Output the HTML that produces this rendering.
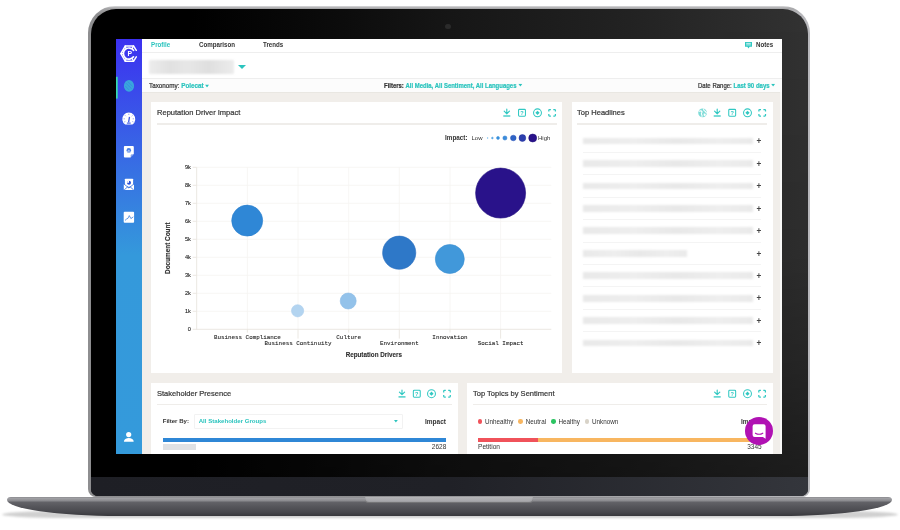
<!DOCTYPE html>
<html><head><meta charset="utf-8"><title>Dashboard</title>
<style>
html,body{margin:0;padding:0;background:#fff;}
body{width:900px;height:530px;position:relative;overflow:hidden;font-family:"Liberation Sans",sans-serif;color:#333;}
.a{position:absolute;}
.t{position:absolute;white-space:nowrap;line-height:1;transform:translateY(-50%);}
.b{font-weight:bold;}
.n{transform:translateY(-50%) scaleX(.925);transform-origin:0 50%;}
.f{transform:translateY(-50%) scaleX(.9);transform-origin:0 50%;}
.h{transform:translateY(-50%) scaleX(.955);transform-origin:0 50%;-webkit-text-stroke:.36px currentColor;color:#383838;}
.teal{color:#2bc4be;}
.mono{font-family:"Liberation Mono",monospace;}
/* laptop */
#lid{left:88px;top:6px;width:722px;height:491px;border-radius:27px 27px 8px 8px;background:linear-gradient(180deg,#d8d8d8 0,#8a8a8a 2px,#666 100%);}
#lidrim{left:88px;top:6px;width:722px;height:491px;border-radius:27px 27px 8px 8px;background:linear-gradient(180deg,#dcdcde 0,#a8a8aa 2px,rgba(150,150,152,0) 8px),linear-gradient(90deg,#8e8e90 0,#909092 40%,#b8b8bc 100%);}
#bezel{left:90.7px;top:8.8px;width:717px;height:487.7px;border-radius:25px 25px 7px 7px;background:linear-gradient(180deg,rgba(0,0,0,0) 0,rgba(0,0,0,.1) 50%,rgba(0,0,0,.45) 100%),linear-gradient(90deg,#000 0,#000 14%,#0c0c0c 35%,#161616 50%,#222222 75%,#323232 100%);overflow:hidden;}
#chin{left:0;top:468.5px;width:100%;height:20px;background:linear-gradient(90deg,#1e1f25 0,#202127 50%,#34363c 100%);}
#cam{left:445.2px;top:23.6px;width:5.6px;height:5.6px;border-radius:50%;background:#2b2b2b;}
#base{left:7px;top:496.5px;width:885px;height:19px;border-radius:4px 4px 115px 115px/3px 3px 16.5px 16.5px;background:linear-gradient(180deg,#8c8c90 0,#9e9ea2 1.5px,#8a8a8e 3.8px,#626267 5.2px,#57575c 9px,#48484d 15px,#38383c 100%);}
#notch{left:365px;top:497px;width:168px;height:6.3px;border-radius:0 0 4px 4px;background:linear-gradient(180deg,#b4b4b7,#a2a2a6);box-shadow:inset 0 -1px 1px rgba(60,60,60,.5);}
#shadow{left:2px;top:511px;width:896px;height:6.5px;border-radius:120px/6.5px;background:rgba(110,110,110,.32);filter:blur(1.2px);}
/* screen */
#screen{left:116px;top:38.5px;width:666px;height:415.5px;overflow:hidden;background:#f1eeea;}
#in{left:-116px;top:-38.5px;width:900px;height:530px;}
#side{left:116px;top:38px;width:26px;height:417px;background:linear-gradient(180deg,#3c30f0 0,#3499db 52%,#349adb 100%);}
#top{left:142px;top:38px;width:640px;height:54.5px;background:#fff;}
.hl{position:absolute;height:1px;background:#eeeeee;}
.card{position:absolute;background:#fff;}
.car{display:inline-block;vertical-align:middle;margin-left:1.5px;position:relative;top:-.1px}
.m{-webkit-text-stroke:.22px currentColor;}
.sep{position:absolute;height:1.4px;background:#efedea;}
</style></head><body>
<div class="a" id="shadow"></div>
<div class="a" id="lidrim"></div>
<div class="a" id="lid" style="background:none"></div>
<div class="a" id="bezel"><div class="a" id="chin"></div></div>
<div class="a" id="cam"></div>
<div class="a" id="base"></div>
<div class="a" id="notch"></div>
<div class="a" id="screen"><div class="a" id="in">
<div class="a" id="side"></div>
<div class="a" id="top"></div>

<!-- nav -->
<div class="t b n teal" style="left:151px;top:45.35px;font-size:6.7px">Profile</div>
<div class="t b n" style="left:199px;top:45.35px;font-size:6.7px">Comparison</div>
<div class="t b n" style="left:263px;top:45.35px;font-size:6.7px">Trends</div>
<div class="t b n" style="left:755.5px;top:45.35px;font-size:6.7px">Notes</div>
<div class="hl" style="left:142px;top:52px;width:640px"></div>
<div class="a" style="left:149px;top:60px;width:84.5px;height:13.5px;background:linear-gradient(90deg,#ececec 0,#e1e1e1 25%,#e7e7e7 45%,#dfdfdf 70%,#ececec 100%);border-radius:1px;filter:blur(1.3px)"></div>
<div class="a" style="left:237.5px;top:64.7px;width:0;height:0;border-left:4.2px solid transparent;border-right:4.2px solid transparent;border-top:4.8px solid #2bc4be"></div>
<div class="hl" style="left:142px;top:78px;width:640px"></div>
<div class="a" style="left:142px;top:79px;width:640px;height:13px;background:#fcfcfc"></div>
<div class="t m f" style="left:149px;top:85.3px;font-size:7px">Taxonomy: <span class="teal b">Polecat<svg class="car" width="5" height="2.9" viewBox="0 0 3.8 2.400"><path d="M0 0h3.800L1.900 2.400z" fill="#2bc4be"/></svg></span></div>
<div class="t m f" style="left:384.4px;top:85.5px;font-size:6.62px"><span class="b">Filters:</span> <span class="teal b">All Media, All Sentiment, All Languages<svg class="car" width="5" height="2.9" viewBox="0 0 3.8 2.400"><path d="M0 0h3.800L1.900 2.400z" fill="#2bc4be"/></svg></span></div>
<div class="t m f" style="left:698px;top:85.5px;font-size:6.7px">Date Range: <span class="teal b">Last 90 days<svg class="car" width="5" height="2.9" viewBox="0 0 3.8 2.400"><path d="M0 0h3.800L1.900 2.400z" fill="#2bc4be"/></svg></span></div>
<div class="a" style="left:142px;top:92px;width:640px;height:1px;background:#e9e7e2"></div>
<div class="a" style="left:780px;top:92px;width:2px;height:363px;background:#f9f9f8"></div>
<!-- cards -->
<div class="card" style="left:151px;top:102px;width:411.2px;height:271px"></div>
<div class="card" style="left:571.5px;top:102px;width:201.5px;height:271px"></div>
<div class="card" style="left:151px;top:383px;width:307px;height:80px"></div>
<div class="card" style="left:467px;top:383px;width:306px;height:80px"></div>
<div class="t m h" style="left:157px;top:113px;font-size:7.9px">Reputation Driver Impact</div>
<div class="t m h" style="left:577.4px;top:113px;font-size:7.9px">Top Headlines</div>
<div class="t m h" style="left:157px;top:394px;font-size:7.9px">Stakeholder Presence</div>
<div class="t m h" style="left:472.5px;top:394px;font-size:7.9px">Top Topics by Sentiment</div>
<div class="sep" style="left:157px;top:123.3px;width:400px"></div>
<div class="sep" style="left:577.4px;top:123.3px;width:190px"></div>
<div class="sep" style="left:157px;top:404.1px;width:295px"></div>
<div class="sep" style="left:472.5px;top:404.1px;width:294.5px"></div>
<svg class="a" style="left:0;top:0" width="900" height="530" viewBox="0 0 900 530" font-family="Liberation Sans, sans-serif">
<line x1="196.7" x2="551.3" y1="311.3" y2="311.3" stroke="#f5f4f1" stroke-width="0.8"/>
<line x1="196.7" x2="551.3" y1="293.3" y2="293.3" stroke="#f5f4f1" stroke-width="0.8"/>
<line x1="196.7" x2="551.3" y1="275.3" y2="275.3" stroke="#f5f4f1" stroke-width="0.8"/>
<line x1="196.7" x2="551.3" y1="257.3" y2="257.3" stroke="#f5f4f1" stroke-width="0.8"/>
<line x1="196.7" x2="551.3" y1="239.3" y2="239.3" stroke="#f5f4f1" stroke-width="0.8"/>
<line x1="196.7" x2="551.3" y1="221.3" y2="221.3" stroke="#f5f4f1" stroke-width="0.8"/>
<line x1="196.7" x2="551.3" y1="203.3" y2="203.3" stroke="#f5f4f1" stroke-width="0.8"/>
<line x1="196.7" x2="551.3" y1="185.3" y2="185.3" stroke="#f5f4f1" stroke-width="0.8"/>
<line x1="196.7" x2="551.3" y1="167.3" y2="167.3" stroke="#f5f4f1" stroke-width="0.8"/>
<line x1="247.4" x2="247.4" y1="167.3" y2="329.3" stroke="#f5f4f1" stroke-width="0.8"/>
<line x1="298.0" x2="298.0" y1="167.3" y2="329.3" stroke="#f5f4f1" stroke-width="0.8"/>
<line x1="348.7" x2="348.7" y1="167.3" y2="329.3" stroke="#f5f4f1" stroke-width="0.8"/>
<line x1="399.3" x2="399.3" y1="167.3" y2="329.3" stroke="#f5f4f1" stroke-width="0.8"/>
<line x1="450.0" x2="450.0" y1="167.3" y2="329.3" stroke="#f5f4f1" stroke-width="0.8"/>
<line x1="500.6" x2="500.6" y1="167.3" y2="329.3" stroke="#f5f4f1" stroke-width="0.8"/>
<line x1="196.7" x2="196.7" y1="167.3" y2="329.8" stroke="#e9e5df" stroke-width="0.9"/>
<line x1="192.7" x2="551.3" y1="329.3" y2="329.3" stroke="#e9e5df" stroke-width="0.9"/>
<text x="190.8" y="330.8" font-size="5.6" text-anchor="end" fill="#262626" stroke="#262626" stroke-width=".12">0</text>
<line x1="192.7" x2="196.7" y1="311.3" y2="311.3" stroke="#e9e5df" stroke-width="0.9"/>
<text x="190.8" y="312.8" font-size="5.6" text-anchor="end" fill="#262626" stroke="#262626" stroke-width=".12">1k</text>
<line x1="192.7" x2="196.7" y1="293.3" y2="293.3" stroke="#e9e5df" stroke-width="0.9"/>
<text x="190.8" y="294.8" font-size="5.6" text-anchor="end" fill="#262626" stroke="#262626" stroke-width=".12">2k</text>
<line x1="192.7" x2="196.7" y1="275.3" y2="275.3" stroke="#e9e5df" stroke-width="0.9"/>
<text x="190.8" y="276.8" font-size="5.6" text-anchor="end" fill="#262626" stroke="#262626" stroke-width=".12">3k</text>
<line x1="192.7" x2="196.7" y1="257.3" y2="257.3" stroke="#e9e5df" stroke-width="0.9"/>
<text x="190.8" y="258.8" font-size="5.6" text-anchor="end" fill="#262626" stroke="#262626" stroke-width=".12">4k</text>
<line x1="192.7" x2="196.7" y1="239.3" y2="239.3" stroke="#e9e5df" stroke-width="0.9"/>
<text x="190.8" y="240.8" font-size="5.6" text-anchor="end" fill="#262626" stroke="#262626" stroke-width=".12">5k</text>
<line x1="192.7" x2="196.7" y1="221.3" y2="221.3" stroke="#e9e5df" stroke-width="0.9"/>
<text x="190.8" y="222.8" font-size="5.6" text-anchor="end" fill="#262626" stroke="#262626" stroke-width=".12">6k</text>
<line x1="192.7" x2="196.7" y1="203.3" y2="203.3" stroke="#e9e5df" stroke-width="0.9"/>
<text x="190.8" y="204.8" font-size="5.6" text-anchor="end" fill="#262626" stroke="#262626" stroke-width=".12">7k</text>
<line x1="192.7" x2="196.7" y1="185.3" y2="185.3" stroke="#e9e5df" stroke-width="0.9"/>
<text x="190.8" y="186.8" font-size="5.6" text-anchor="end" fill="#262626" stroke="#262626" stroke-width=".12">8k</text>
<line x1="192.7" x2="196.7" y1="167.3" y2="167.3" stroke="#e9e5df" stroke-width="0.9"/>
<text x="190.8" y="168.8" font-size="5.6" text-anchor="end" fill="#262626" stroke="#262626" stroke-width=".12">9k</text>
<line x1="247.4" x2="247.4" y1="329.3" y2="332.6" stroke="#e9e5df" stroke-width="0.9"/>
<text x="247.4" y="338.8" font-size="5.88" text-anchor="middle" fill="#262626" stroke="#262626" stroke-width=".1" font-family="Liberation Mono, monospace">Business Compliance</text>
<line x1="298.0" x2="298.0" y1="329.3" y2="338.6" stroke="#e9e5df" stroke-width="0.9"/>
<text x="298.0" y="345.4" font-size="5.88" text-anchor="middle" fill="#262626" stroke="#262626" stroke-width=".1" font-family="Liberation Mono, monospace">Business Continuity</text>
<line x1="348.7" x2="348.7" y1="329.3" y2="332.6" stroke="#e9e5df" stroke-width="0.9"/>
<text x="348.7" y="338.8" font-size="5.88" text-anchor="middle" fill="#262626" stroke="#262626" stroke-width=".1" font-family="Liberation Mono, monospace">Culture</text>
<line x1="399.3" x2="399.3" y1="329.3" y2="338.6" stroke="#e9e5df" stroke-width="0.9"/>
<text x="399.3" y="345.4" font-size="5.88" text-anchor="middle" fill="#262626" stroke="#262626" stroke-width=".1" font-family="Liberation Mono, monospace">Environment</text>
<line x1="450.0" x2="450.0" y1="329.3" y2="332.6" stroke="#e9e5df" stroke-width="0.9"/>
<text x="450.0" y="338.8" font-size="5.88" text-anchor="middle" fill="#262626" stroke="#262626" stroke-width=".1" font-family="Liberation Mono, monospace">Innovation</text>
<line x1="500.6" x2="500.6" y1="329.3" y2="338.6" stroke="#e9e5df" stroke-width="0.9"/>
<text x="500.6" y="345.4" font-size="5.88" text-anchor="middle" fill="#262626" stroke="#262626" stroke-width=".1" font-family="Liberation Mono, monospace">Social Impact</text>
<text x="373.8" y="356.5" font-size="6.3" font-weight="bold" text-anchor="middle" fill="#2e2e2e" stroke="#2e2e2e" stroke-width=".1">Reputation Drivers</text>
<text transform="translate(170.2,248.2) rotate(-90)" font-size="6.4" font-weight="bold" text-anchor="middle" fill="#2e2e2e" stroke="#2e2e2e" stroke-width=".12">Document Count</text>
<circle cx="247.2" cy="220.6" r="15.5" fill="#2f87d6" stroke="#2a7fce" stroke-width="0.6"/>
<circle cx="297.6" cy="310.8" r="6.1" fill="#b3d4f0" stroke="#a9cdec" stroke-width="0.6"/>
<circle cx="348.2" cy="301" r="8.0" fill="#93c2ea" stroke="#8abbe6" stroke-width="0.6"/>
<circle cx="399.2" cy="252.7" r="16.6" fill="#2e78c8" stroke="#2a6fc0" stroke-width="0.6"/>
<circle cx="449.8" cy="259" r="14.5" fill="#4198da" stroke="#3c90d4" stroke-width="0.6"/>
<circle cx="500.6" cy="193.1" r="25.0" fill="#29128a" stroke="#241080" stroke-width="0.6"/>
<text x="445" y="140.1" font-size="6.35" font-weight="bold" fill="#333">Impact:</text>
<text x="471.5" y="140.1" font-size="6" fill="#333">Low</text>
<text x="538" y="140.1" font-size="6" fill="#333">High</text>
<circle cx="487.7" cy="138" r="0.45" fill="#6ab4ea" stroke="#6ab4ea" stroke-width="0.5"/>
<circle cx="492.4" cy="138" r="0.85" fill="#4aa0e2" stroke="#3d95dc" stroke-width="0.5"/>
<circle cx="498" cy="138" r="1.45" fill="#3a94de" stroke="#2f87d6" stroke-width="0.5"/>
<circle cx="504.9" cy="138" r="2.05" fill="#3a8cdc" stroke="#2a78cc" stroke-width="0.5"/>
<circle cx="513.3" cy="138" r="2.8" fill="#2f64c6" stroke="#244eb4" stroke-width="0.5"/>
<circle cx="522.4" cy="138" r="3.4" fill="#2d3fae" stroke="#23309c" stroke-width="0.5"/>
<circle cx="532.7" cy="138" r="4.0" fill="#29128a" stroke="#1d0b74" stroke-width="0.5"/>
</svg>
<div class="a" style="left:583px;top:137.6px;width:169.6px;height:6.8px;background:linear-gradient(90deg,#e9e9e9,#eeeeee 30%,#e8e8e8 55%,#eeeeee 80%,#eaeaea);filter:blur(.9px)"></div>
<div class="t b" style="left:756.4px;top:142.3px;font-size:8.2px;color:#444">+</div>
<div class="hl" style="left:583px;top:151.7px;width:178px;background:#f4f4f4"></div>
<div class="a" style="left:583px;top:160.0px;width:169.6px;height:6.8px;background:linear-gradient(90deg,#e9e9e9,#eeeeee 30%,#e8e8e8 55%,#eeeeee 80%,#eaeaea);filter:blur(.9px)"></div>
<div class="t b" style="left:756.4px;top:164.7px;font-size:8.2px;color:#444">+</div>
<div class="hl" style="left:583px;top:174.1px;width:178px;background:#f4f4f4"></div>
<div class="a" style="left:583px;top:182.5px;width:169.6px;height:6.8px;background:linear-gradient(90deg,#e9e9e9,#eeeeee 30%,#e8e8e8 55%,#eeeeee 80%,#eaeaea);filter:blur(.9px)"></div>
<div class="t b" style="left:756.4px;top:187.2px;font-size:8.2px;color:#444">+</div>
<div class="hl" style="left:583px;top:196.6px;width:178px;background:#f4f4f4"></div>
<div class="a" style="left:583px;top:204.9px;width:169.6px;height:6.8px;background:linear-gradient(90deg,#e9e9e9,#eeeeee 30%,#e8e8e8 55%,#eeeeee 80%,#eaeaea);filter:blur(.9px)"></div>
<div class="t b" style="left:756.4px;top:209.6px;font-size:8.2px;color:#444">+</div>
<div class="hl" style="left:583px;top:219.0px;width:178px;background:#f4f4f4"></div>
<div class="a" style="left:583px;top:227.4px;width:169.6px;height:6.8px;background:linear-gradient(90deg,#e9e9e9,#eeeeee 30%,#e8e8e8 55%,#eeeeee 80%,#eaeaea);filter:blur(.9px)"></div>
<div class="t b" style="left:756.4px;top:232.1px;font-size:8.2px;color:#444">+</div>
<div class="hl" style="left:583px;top:241.5px;width:178px;background:#f4f4f4"></div>
<div class="a" style="left:583px;top:249.8px;width:103.5px;height:6.8px;background:linear-gradient(90deg,#e9e9e9,#eeeeee 30%,#e8e8e8 55%,#eeeeee 80%,#eaeaea);filter:blur(.9px)"></div>
<div class="t b" style="left:756.4px;top:254.5px;font-size:8.2px;color:#444">+</div>
<div class="hl" style="left:583px;top:263.9px;width:178px;background:#f4f4f4"></div>
<div class="a" style="left:583px;top:272.3px;width:169.6px;height:6.8px;background:linear-gradient(90deg,#e9e9e9,#eeeeee 30%,#e8e8e8 55%,#eeeeee 80%,#eaeaea);filter:blur(.9px)"></div>
<div class="t b" style="left:756.4px;top:277.0px;font-size:8.2px;color:#444">+</div>
<div class="hl" style="left:583px;top:286.4px;width:178px;background:#f4f4f4"></div>
<div class="a" style="left:583px;top:294.8px;width:169.6px;height:6.8px;background:linear-gradient(90deg,#e9e9e9,#eeeeee 30%,#e8e8e8 55%,#eeeeee 80%,#eaeaea);filter:blur(.9px)"></div>
<div class="t b" style="left:756.4px;top:299.4px;font-size:8.2px;color:#444">+</div>
<div class="hl" style="left:583px;top:308.8px;width:178px;background:#f4f4f4"></div>
<div class="a" style="left:583px;top:317.2px;width:169.6px;height:6.8px;background:linear-gradient(90deg,#e9e9e9,#eeeeee 30%,#e8e8e8 55%,#eeeeee 80%,#eaeaea);filter:blur(.9px)"></div>
<div class="t b" style="left:756.4px;top:321.9px;font-size:8.2px;color:#444">+</div>
<div class="hl" style="left:583px;top:331.3px;width:178px;background:#f4f4f4"></div>
<div class="a" style="left:583px;top:339.6px;width:169.6px;height:6.8px;background:linear-gradient(90deg,#e9e9e9,#eeeeee 30%,#e8e8e8 55%,#eeeeee 80%,#eaeaea);filter:blur(.9px)"></div>
<div class="t b" style="left:756.4px;top:344.3px;font-size:8.2px;color:#444">+</div>

<div class="t b" style="left:162.7px;top:421.4px;font-size:6.05px">Filter By:</div>
<div class="a" style="left:193.5px;top:414.4px;width:209.3px;height:14.2px;box-sizing:border-box;border:1px solid #f2f2f2;border-radius:1px;background:#fff"></div>
<div class="t b teal" style="left:198.7px;top:421.2px;font-size:6.1px">All Stakeholder Groups</div>
<svg class="a" style="left:394.2px;top:420.3px" width="3.8" height="2.4" viewBox="0 0 3.8 2.400"><path d="M0 0h3.800L1.900 2.400z" fill="#2bc4be"/></svg>
<div class="t b" style="left:425px;top:421.9px;font-size:6.5px">Impact</div>
<div class="a" style="left:162.7px;top:437.7px;width:283.3px;height:4.3px;background:#2f87d6"></div>
<div class="a" style="left:162.7px;top:444.3px;width:33px;height:5.3px;background:#dfe1e4;filter:blur(.5px)"></div>
<div class="t" style="left:431.8px;top:447.4px;font-size:6.5px">2628</div>
<div class="a" style="left:477.7px;top:419.3px;width:4.3px;height:4.3px;border-radius:50%;background:#f0525a"></div>
<div class="t" style="left:485px;top:421.5px;font-size:6.3px">Unhealthy</div>
<div class="a" style="left:518.3px;top:419.3px;width:4.3px;height:4.3px;border-radius:50%;background:#f8b660"></div>
<div class="t" style="left:525.8px;top:421.5px;font-size:6.3px">Neutral</div>
<div class="a" style="left:551.3px;top:419.3px;width:4.3px;height:4.3px;border-radius:50%;background:#2cc462"></div>
<div class="t" style="left:558.5px;top:421.5px;font-size:6.3px">Healthy</div>
<div class="a" style="left:584.8px;top:419.3px;width:4.3px;height:4.3px;border-radius:50%;background:#d8d3c8"></div>
<div class="t" style="left:592px;top:421.5px;font-size:6.3px">Unknown</div>
<div class="t b" style="left:741px;top:421.9px;font-size:6.5px">Impact</div>
<div class="a" style="left:478px;top:437.7px;width:59.7px;height:4.3px;background:#f0525a"></div>
<div class="a" style="left:537.7px;top:437.7px;width:224.3px;height:4.3px;background:#f8b660"></div>
<div class="t" style="left:478px;top:447.4px;font-size:6.6px">Petition</div>
<div class="t" style="left:747.2px;top:447.4px;font-size:6.5px">3345</div>
<div class="a" style="left:745px;top:417px;width:28px;height:28px;border-radius:50%;background:#b011b3"></div>
<svg class="a" style="left:745px;top:417px" width="28" height="28" viewBox="0 0 28 28"><path d="M9.600 7.200h9a2 2 0 0 1 2 2v12.500l-2.700-1.800H9.600a2 2 0 0 1-2-2V9.200a2 2 0 0 1 2-2z" fill="#fff"/><path d="M10.400 16.200q3.700 2.200 7.400 0" fill="none" stroke="#b011b3" stroke-width="1.1" stroke-linecap="round"/></svg>

<svg class="a" style="left:0;top:0" width="900" height="530" viewBox="0 0 900 530">
<g transform="translate(506.8,112.8)" fill="none" stroke="#30c8c2" stroke-width="1.15" stroke-linecap="round" stroke-linejoin="round"><path d="M0 -3.700V0.800M-2.600 -1.600L0 1.000L2.600 -1.600"/><path d="M-3.500 3.200H3.500" stroke-width="1.3" stroke-linecap="butt"/></g>
<g transform="translate(522,112.8)"><rect x="-3.450" y="-3.450" width="6.9" height="6.900" rx="0.9" fill="none" stroke="#30c8c2" stroke-width="1.050"/><text x="0" y="2.150" font-size="5.600" font-weight="bold" text-anchor="middle" fill="#30c8c2" font-family="Liberation Sans, sans-serif">?</text></g>
<g transform="translate(537.5,112.8)"><circle r="3.950" fill="none" stroke="#30c8c2" stroke-width="1.050"/><path d="M0 -2.100L2.100 0L0 2.100L-2.100 0Z" fill="#30c8c2"/></g>
<g transform="translate(552.1,112.8)" fill="none" stroke="#30c8c2" stroke-width="1.250" stroke-linejoin="round"><path d="M-3.300 -1.200V-2.500a.8 .8 0 0 1 .8 -.8H-1.200M1.200 -3.300H2.500a.8 .8 0 0 1 .8 .8V-1.200M3.300 1.200V2.500a.8 .8 0 0 1 -.8 .8H1.200M-1.200 3.300H-2.500a.8 .8 0 0 1 -.8 -.8V1.200"/></g>
<g transform="translate(717.2,112.8)" fill="none" stroke="#30c8c2" stroke-width="1.15" stroke-linecap="round" stroke-linejoin="round"><path d="M0 -3.700V0.800M-2.600 -1.600L0 1.000L2.600 -1.600"/><path d="M-3.500 3.200H3.500" stroke-width="1.3" stroke-linecap="butt"/></g>
<g transform="translate(732.2,112.8)"><rect x="-3.450" y="-3.450" width="6.9" height="6.900" rx="0.9" fill="none" stroke="#30c8c2" stroke-width="1.050"/><text x="0" y="2.150" font-size="5.600" font-weight="bold" text-anchor="middle" fill="#30c8c2" font-family="Liberation Sans, sans-serif">?</text></g>
<g transform="translate(747.5,112.8)"><circle r="3.950" fill="none" stroke="#30c8c2" stroke-width="1.050"/><path d="M0 -2.100L2.100 0L0 2.100L-2.100 0Z" fill="#30c8c2"/></g>
<g transform="translate(762.2,112.8)" fill="none" stroke="#30c8c2" stroke-width="1.250" stroke-linejoin="round"><path d="M-3.300 -1.200V-2.500a.8 .8 0 0 1 .8 -.8H-1.200M1.200 -3.300H2.500a.8 .8 0 0 1 .8 .8V-1.200M3.300 1.200V2.500a.8 .8 0 0 1 -.8 .8H1.200M-1.200 3.300H-2.500a.8 .8 0 0 1 -.8 -.8V1.200"/></g>
<g transform="translate(702.6,112.8)"><circle r="4.400" fill="#7fdcd8"/><path d="M-3.400 -1.500C-2.200 -2.000 -1.200 -2.200 -0.600 -1.200C-0.200 -0.300 -1.400 0.200 -1.200 1.200C-1.000 2.100 -0.200 2.400 -0.600 3.600M1.000 -3.800C0.600 -2.600 1.600 -2.000 2.400 -1.600C3.200 -1.200 3.400 -0.400 3.900 0.200M1.600 1.200C2.200 1.000 2.800 1.400 2.600 2.200C2.400 2.800 1.800 2.800 1.600 2.200Z" fill="none" stroke="#fff" stroke-width="1.1" stroke-linecap="round"/></g>
<g transform="translate(402,393.7)" fill="none" stroke="#30c8c2" stroke-width="1.15" stroke-linecap="round" stroke-linejoin="round"><path d="M0 -3.700V0.800M-2.600 -1.600L0 1.000L2.600 -1.600"/><path d="M-3.500 3.200H3.500" stroke-width="1.3" stroke-linecap="butt"/></g>
<g transform="translate(416.8,393.7)"><rect x="-3.450" y="-3.450" width="6.9" height="6.900" rx="0.9" fill="none" stroke="#30c8c2" stroke-width="1.050"/><text x="0" y="2.150" font-size="5.600" font-weight="bold" text-anchor="middle" fill="#30c8c2" font-family="Liberation Sans, sans-serif">?</text></g>
<g transform="translate(431.5,393.7)"><circle r="3.950" fill="none" stroke="#30c8c2" stroke-width="1.050"/><path d="M0 -2.100L2.100 0L0 2.100L-2.100 0Z" fill="#30c8c2"/></g>
<g transform="translate(447,393.7)" fill="none" stroke="#30c8c2" stroke-width="1.250" stroke-linejoin="round"><path d="M-3.300 -1.200V-2.500a.8 .8 0 0 1 .8 -.8H-1.200M1.200 -3.300H2.500a.8 .8 0 0 1 .8 .8V-1.200M3.300 1.200V2.500a.8 .8 0 0 1 -.8 .8H1.200M-1.200 3.300H-2.500a.8 .8 0 0 1 -.8 -.8V1.200"/></g>
<g transform="translate(717.2,393.7)" fill="none" stroke="#30c8c2" stroke-width="1.15" stroke-linecap="round" stroke-linejoin="round"><path d="M0 -3.700V0.800M-2.600 -1.600L0 1.000L2.600 -1.600"/><path d="M-3.500 3.200H3.500" stroke-width="1.3" stroke-linecap="butt"/></g>
<g transform="translate(732.2,393.7)"><rect x="-3.450" y="-3.450" width="6.9" height="6.900" rx="0.9" fill="none" stroke="#30c8c2" stroke-width="1.050"/><text x="0" y="2.150" font-size="5.600" font-weight="bold" text-anchor="middle" fill="#30c8c2" font-family="Liberation Sans, sans-serif">?</text></g>
<g transform="translate(747.5,393.7)"><circle r="3.950" fill="none" stroke="#30c8c2" stroke-width="1.050"/><path d="M0 -2.100L2.100 0L0 2.100L-2.100 0Z" fill="#30c8c2"/></g>
<g transform="translate(762.1,393.7)" fill="none" stroke="#30c8c2" stroke-width="1.250" stroke-linejoin="round"><path d="M-3.300 -1.200V-2.500a.8 .8 0 0 1 .8 -.8H-1.200M1.200 -3.300H2.500a.8 .8 0 0 1 .8 .8V-1.200M3.300 1.200V2.500a.8 .8 0 0 1 -.8 .8H1.200M-1.200 3.300H-2.500a.8 .8 0 0 1 -.8 -.8V1.200"/></g>
<g><path d="M745 42h7v4.700h-2.400l-1.100 1.900l-1.100 -1.900H745z" fill="#30c8c2"/><path d="M746.200 43.400h4.600M746.200 44.900h4.600" stroke="#fff" stroke-width=".7"/></g>
<g><path d="M136.300 50.300L133.500 45.900H125.300L120.900 53.600L125.300 61.300H133.500L136.300 56.900" fill="none" stroke="#fff" stroke-width="1.500" stroke-linejoin="round" stroke-linecap="round"/><path d="M133.550 50.350A5.600 5.600 0 1 0 133.550 56.850" fill="none" stroke="#fff" stroke-width="1.700" stroke-linecap="round"/><path d="M125.300 45.900L126 48.600M133.500 45.900L132.300 48.400M120.900 53.600L123.300 53.600M125.300 61.300L126 58.600M133.500 61.300L132.300 58.800" stroke="#fff" stroke-width="1.300" stroke-linecap="round"/><text x="129.700" y="56" font-size="6.800" font-weight="bold" text-anchor="middle" fill="#fff" font-family="Liberation Sans, sans-serif">P</text></g>
<rect x="116" y="76.800" width="1.700" height="21.800" fill="#35dcb0"/>
<g><ellipse cx="129" cy="85.900" rx="5.100" ry="5.900" fill="#39a6dc"/><path d="M126 83.200L131.600 88.800M127.800 81.600L132.800 86.600M125.300 86L129.400 90.200" stroke="#3e4ce6" stroke-width=".55" fill="none" opacity=".55"/></g>
<g><path d="M125.180 124.500A6.500 6.500 0 1 1 132.420 124.500Z" fill="#fff"/><g stroke="#3e58e4" fill="none"><path d="M128.600 122.300L129.500 116.900" stroke-width="1.300"/><path d="M126.900 123.100h3.800" stroke-width="1.100"/><path d="M128.800 113.700v1.300M125 115.300l.9 .9M132.600 115.300l-.9 .9M123.600 118.800h1.300M134 118.800h-1.300M124.200 122l1.100 -.5M133.400 122l-1.100 -.5" stroke-width=".7" opacity=".75"/></g></g>
<g><path d="M124.800 146h8.100a.9 .9 0 0 1 .9 .9v7.100l-3.300 3.400h-5.700a.9 .9 0 0 1 -.9 -.9v-9.600a.9 .9 0 0 1 .9 -.9z" fill="#fff"/><path d="M131.200 157.200v-2.300h2.400" fill="none" stroke="#3c6ce0" stroke-width=".7"/><circle cx="128.800" cy="150.400" r="2.300" fill="#4a7ee6"/><path d="M128.800 150.400v2.300M128.800 150.400l-1.800 1.300M128.800 150.400l1.800 1.300" stroke="#fff" stroke-width=".5"/></g>
<g><rect x="124.900" y="178.700" width="8.200" height="8" rx=".6" fill="#fff"/><path d="M123.800 183.900l5.100 4l5.100 -4v5.500a.7 .7 0 0 1 -.7 .7h-8.800a.7 .7 0 0 1 -.7 -.7z" fill="#fff"/><path d="M123.800 183.900l5.100 4.100l5.100 -4.100M124.100 190l3.900 -3.500M133.700 190l-3.900 -3.500" fill="none" stroke="#3a74e0" stroke-width=".85"/><circle cx="129" cy="182.700" r="2" fill="#2a50d8"/><path d="M129 182.700V180.700A2 2 0 0 0 127 182.700Z" fill="#fff"/></g>
<g><rect x="123.700" y="211.700" width="10.400" height="11" rx="1" fill="#fff"/><path d="M125.300 220.200L126.600 219L128 218.300L129.300 215.600L130.900 218.600L133 217.100" fill="none" stroke="#3a80e0" stroke-width=".8" stroke-linejoin="round" stroke-linecap="round"/></g>
<g fill="#fff"><circle cx="128.700" cy="434.600" r="2.600"/><path d="M123.900 441.800c0 -2.400 2.400 -3.700 4.900 -3.700s4.900 1.300 4.900 3.700z"/></g>
</svg>

</div></div>
</body></html>
